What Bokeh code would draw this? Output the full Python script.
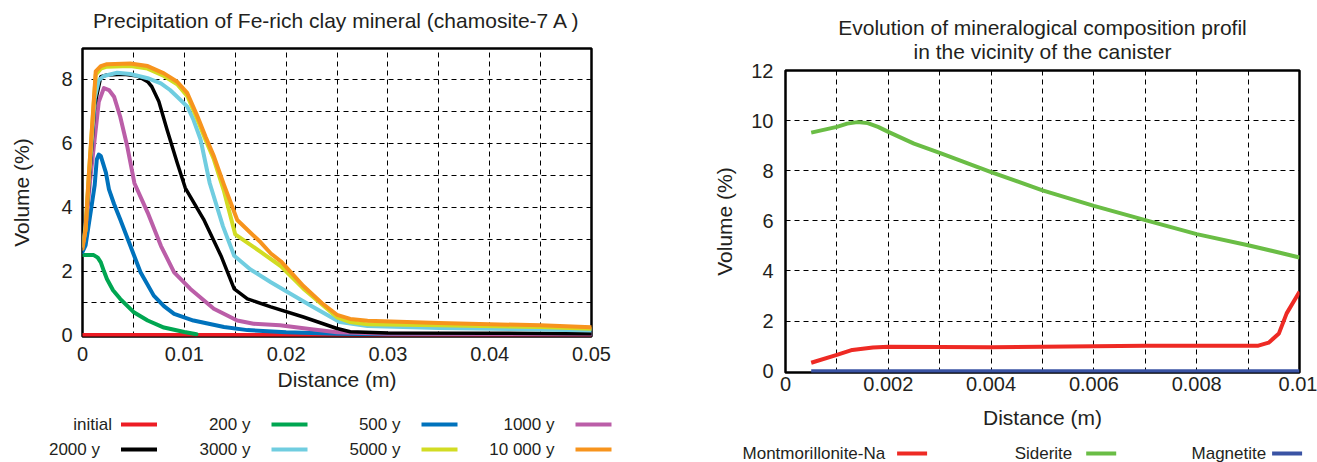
from bokeh.plotting import figure
from bokeh.models import Range1d, FixedTicker, ColumnDataSource, Title
from bokeh.layouts import row, column
from bokeh.core.properties import value
from bokeh.embed import file_html
from bokeh.resources import INLINE

# ---------------- data: left chart (chamosite-7A precipitation) ----------------
series_names = ["initial", "200 y", "500 y", "1000 y", "2000 y", "3000 y", "5000 y", "10 000 y"]
series_colors = ["#ed1c24", "#00a651", "#0072bc", "#bb5ea8", "#000000", "#70cde0", "#d2dc23", "#f7941d"]

x_initial = [0.0, 0.05]
y_initial = [0.0, 0.0]

x_200 = [0.0, 0.0011, 0.0015, 0.0018, 0.0021, 0.0024, 0.003, 0.0037, 0.005, 0.0064, 0.008, 0.010, 0.0112]
y_200 = [2.5, 2.5, 2.42, 2.27, 2.0, 1.75, 1.4, 1.13, 0.72, 0.45, 0.23, 0.09, 0.02]

x_500 = [0.0, 0.0003, 0.0008, 0.0012, 0.0014, 0.0016, 0.0018, 0.0023, 0.0026, 0.0031, 0.0037, 0.0047,
         0.0057, 0.007, 0.008, 0.009, 0.0109, 0.0139, 0.0162, 0.020, 0.025, 0.030, 0.040, 0.050]
y_500 = [2.6, 2.8, 3.84, 4.7, 5.49, 5.65, 5.6, 5.08, 4.56, 4.1, 3.62, 2.79,
         1.96, 1.23, 0.9, 0.66, 0.45, 0.25, 0.15, 0.08, 0.04, 0.02, 0.02, 0.02]

x_1000 = [0.0, 0.0003, 0.0008, 0.0016, 0.0021, 0.0026, 0.0031, 0.0037, 0.0044, 0.0051, 0.0064, 0.0077,
          0.009, 0.0106, 0.0129, 0.0152, 0.0168, 0.0194, 0.0225, 0.025, 0.030, 0.040, 0.050]
y_1000 = [2.8, 3.3, 5.0, 7.3, 7.73, 7.67, 7.46, 6.84, 5.9, 4.75, 3.83, 2.79,
          1.96, 1.44, 0.82, 0.45, 0.35, 0.3, 0.18, 0.08, 0.04, 0.03, 0.02]

x_2000 = [0.0, 0.0003, 0.0007, 0.0012, 0.0018, 0.0024, 0.0041, 0.0054, 0.0064, 0.0068, 0.0075, 0.0083,
          0.0093, 0.0101, 0.0119, 0.0136, 0.0149, 0.0162, 0.0185, 0.0217, 0.025, 0.0263, 0.030, 0.040, 0.050]
y_2000 = [2.8, 3.3, 5.0, 7.2, 8.09, 8.14, 8.16, 8.11, 7.93, 7.78, 7.31, 6.43,
          5.39, 4.6, 3.62, 2.48, 1.44, 1.13, 0.88, 0.56, 0.2, 0.1, 0.06, 0.05, 0.04]

x_3000 = [0.0, 0.0003, 0.0007, 0.0012, 0.0016, 0.0021, 0.0034, 0.0047, 0.0064, 0.0077, 0.0086, 0.0093,
          0.0103, 0.0109, 0.0116, 0.0125, 0.0138, 0.0149, 0.0165, 0.0185, 0.0224, 0.0253, 0.028,
          0.035, 0.045, 0.050]
y_3000 = [2.8, 3.4, 5.2, 7.4, 7.98, 8.11, 8.21, 8.17, 8.04, 7.88, 7.67, 7.46,
          7.15, 6.74, 6.12, 4.75, 3.4, 2.48, 2.05, 1.65, 0.92, 0.4, 0.28,
          0.22, 0.17, 0.14]

x_5000 = [0.0, 0.0003, 0.0006, 0.0013, 0.0018, 0.0024, 0.0047, 0.0064, 0.008, 0.0093, 0.0103,
          0.0113, 0.0121, 0.0129, 0.0139, 0.0150, 0.0175, 0.0195, 0.0217, 0.025, 0.0263, 0.028,
          0.035, 0.045, 0.050]
y_5000 = [2.8, 3.3, 4.9, 8.15, 8.34, 8.4, 8.42, 8.34, 8.11, 7.85, 7.48,
          6.74, 6.1, 5.5, 4.5, 3.15, 2.6, 2.15, 1.45, 0.55, 0.4, 0.33,
          0.3, 0.25, 0.19]

x_10000 = [0.0, 0.0003, 0.0006, 0.0013, 0.0018, 0.0024, 0.0047, 0.0064, 0.008, 0.0093, 0.0103,
           0.0113, 0.0121, 0.0129, 0.0139, 0.0152, 0.0165, 0.0175, 0.0185, 0.0195, 0.0217,
           0.0235, 0.025, 0.0263, 0.028, 0.035, 0.045, 0.050]
y_10000 = [2.7, 3.3, 4.9, 8.25, 8.42, 8.48, 8.5, 8.42, 8.19, 7.93, 7.57,
           6.84, 6.2, 5.6, 4.7, 3.6, 3.2, 2.9, 2.55, 2.3, 1.53,
           1.0, 0.63, 0.5, 0.44, 0.37, 0.3, 0.24]

left_xs = [x_initial, x_200, x_500, x_1000, x_2000, x_3000, x_5000, x_10000]
left_ys = [y_initial, y_200, y_500, y_1000, y_2000, y_3000, y_5000, y_10000]

left_xticks = [0.0, 0.01, 0.02, 0.03, 0.04, 0.05]
left_xtick_labels = ["0", "0.01", "0.02", "0.03", "0.04", "0.05"]
left_yticks = [0, 2, 4, 6, 8]
left_xgrid = [0.005, 0.01, 0.015, 0.02, 0.025, 0.03, 0.035, 0.04, 0.045]
left_ygrid = [1, 2, 3, 4, 5, 6, 7, 8]
left_title = "Precipitation of Fe-rich clay mineral (chamosite-7 A )"

# ---------------- data: right chart (mineralogical composition) ----------------
mineral_names = ["Montmorillonite-Na", "Siderite", "Magnetite"]
mineral_colors = ["#ee2a24", "#6abd45", "#3a53a4"]

x_mont = [0.0005, 0.001, 0.0013, 0.0017, 0.002, 0.003, 0.004, 0.005, 0.006, 0.007, 0.008, 0.0092,
          0.0094, 0.0096, 0.00975, 0.010]
y_mont = [0.34, 0.65, 0.85, 0.95, 0.98, 0.97, 0.96, 0.98, 1.0, 1.02, 1.02, 1.02,
          1.14, 1.51, 2.31, 3.17]

x_sid = [0.0005, 0.001, 0.0012, 0.0014, 0.0016, 0.0018, 0.002, 0.0025, 0.003, 0.004, 0.005, 0.006,
         0.007, 0.008, 0.009, 0.010]
y_sid = [9.52, 9.75, 9.88, 9.94, 9.9, 9.75, 9.55, 9.08, 8.71, 7.95, 7.22, 6.6,
         6.03, 5.47, 5.03, 4.54]

x_mag = [0.0005, 0.010]
y_mag = [0.0, 0.0]

right_xs = [x_mont, x_sid, x_mag]
right_ys = [y_mont, y_sid, y_mag]

right_xticks = [0.0, 0.002, 0.004, 0.006, 0.008, 0.01]
right_xtick_labels = ["0", "0.002", "0.004", "0.006", "0.008", "0.01"]
right_yticks = [0, 2, 4, 6, 8, 10, 12]
right_xgrid = [0.001, 0.002, 0.003, 0.004, 0.005, 0.006, 0.007, 0.008, 0.009]
right_ygrid = [2, 4, 6, 8, 10]
right_title_lines = ["Evolution of mineralogical composition profil", "in the vicinity of the canister"]

# ---------------- styling ----------------
FONT = "Liberation Sans"
TXT = "#231f20"


def no_align(p):
    try:
        p.frame_align = False
    except Exception:
        pass


def style(p, xticks, xlabels, yticks, xgrid, ygrid, xstand, ystand, xlabstand, ylabstand):
    p.outline_line_color = "black"
    p.outline_line_width = 2.5
    p.background_fill_color = "white"
    p.border_fill_color = "white"
    for ax in (p.xaxis[0], p.yaxis[0]):
        ax.axis_line_color = None
        ax.major_tick_line_color = None
        ax.minor_tick_line_color = None
        ax.major_tick_out = 0
        ax.major_tick_in = 0
        ax.minor_tick_out = 0
        ax.major_label_text_font = FONT
        ax.major_label_text_font_size = "20px"
        ax.major_label_text_color = TXT
        ax.axis_label_text_font = FONT
        ax.axis_label_text_font_size = "21px"
        ax.axis_label_text_font_style = "normal"
        ax.axis_label_text_color = TXT
    p.xaxis[0].ticker = FixedTicker(ticks=xticks)
    p.xaxis[0].major_label_overrides = {t: l for t, l in zip(xticks, xlabels)}
    p.yaxis[0].ticker = FixedTicker(ticks=yticks)
    p.xaxis[0].major_label_standoff = xstand
    p.yaxis[0].major_label_standoff = ystand
    p.xaxis[0].axis_label_standoff = xlabstand
    p.yaxis[0].axis_label_standoff = ylabstand
    p.xaxis[0].axis_label = "Distance (m)"
    p.yaxis[0].axis_label = "Volume (%)"
    p.xgrid[0].ticker = FixedTicker(ticks=xgrid)
    p.ygrid[0].ticker = FixedTicker(ticks=ygrid)
    for g in (p.xgrid[0], p.ygrid[0]):
        g.grid_line_color = "black"
        g.grid_line_width = 1
        g.grid_line_dash = "5 4"
    no_align(p)


def make_title(text, standoff):
    return Title(text=text, text_font=FONT, text_font_size="21px", text_font_style="normal",
                 text_color=TXT, align="center", standoff=standoff)


def legend_fig(w, h):
    f = figure(width=w, height=h, x_range=Range1d(0, w), y_range=Range1d(h, 0),
               output_backend="svg", toolbar_location=None, x_axis_type=None, y_axis_type=None,
               min_border_left=0, min_border_right=0, min_border_top=0, min_border_bottom=0)
    f.outline_line_color = None
    f.xgrid.visible = False
    f.ygrid.visible = False
    no_align(f)
    return f


# ---------------- left chart ----------------
left = figure(width=700, height=400, x_range=Range1d(0, 0.05), y_range=Range1d(-0.05, 8.97),
              output_backend="svg", toolbar_location=None, title=None,
              min_border_left=82, min_border_right=109, min_border_top=48, min_border_bottom=64)
style(left, left_xticks, left_xtick_labels, left_yticks, left_xgrid, left_ygrid, 10, 10, 4, 25)
left.add_layout(make_title(" ", 0), "above")          # spacer between frame and title
left.add_layout(make_title(left_title, -17), "above")
for xs, ys, c in zip(left_xs, left_ys, series_colors):
    lw = 3.5 if c == "#000000" else 4
    left.line(xs, ys, line_color=c, line_width=lw, line_join="round", line_cap="round")

# left legend (label then swatch, 2 rows x 4 columns); coordinates in page pixels
LW, LH = 700, 62
left_leg = legend_fig(LW, LH)
col_line_start = [120.5, 271, 421, 575]
row_y = [24, 49]
seg_len = 36
lx0, lx1, ly, tx, labels, cols = [], [], [], [], [], []
for i, (name, c) in enumerate(zip(series_names, series_colors)):
    r, k = divmod(i, 4)
    x0 = col_line_start[k]
    gap = 9 if i == 0 else 21
    lx0.append(x0)
    lx1.append(x0 + seg_len)
    ly.append(row_y[r])
    tx.append(x0 - gap)
    labels.append(name)
    cols.append(c)
leg_src = ColumnDataSource(dict(x0=lx0, x1=lx1, y=ly, tx=tx, text=labels, color=cols))
left_leg.segment(x0="x0", y0="y", x1="x1", y1="y", line_color="color", line_width=4, source=leg_src)
left_leg.text(x="tx", y="y", text="text", source=leg_src, text_align="right", text_baseline="middle",
              text_font=value(FONT), text_font_size=value("17px"), text_color=TXT)

# ---------------- right chart ----------------
right = figure(width=617, height=436, x_range=Range1d(0, 0.01), y_range=Range1d(-0.05, 12),
               output_backend="svg", toolbar_location=None, title=None,
               min_border_left=85, min_border_right=18, min_border_top=70, min_border_bottom=64)
style(right, right_xticks, right_xtick_labels, right_yticks, right_xgrid, right_ygrid, 4, 12, 12, 12)
right.add_layout(make_title(right_title_lines[1], 16), "above")
right.add_layout(make_title(right_title_lines[0], -19), "above")
for xs, ys, c in zip(right_xs, right_ys, mineral_colors):
    right.line(xs, ys, line_color=c, line_width=4, line_join="round", line_cap="butt")

RW, RH = 617, 26
right_leg = legend_fig(RW, RH)
r_text_end = [184.7, 371.8, 565.7]
r_line_start = [196.6, 385.7, 571.6]
r_seg = 30
rsrc = ColumnDataSource(dict(x0=r_line_start, x1=[v + r_seg for v in r_line_start], y=[17] * 3,
                             tx=r_text_end, text=mineral_names, color=mineral_colors))
right_leg.segment(x0="x0", y0="y", x1="x1", y1="y", line_color="color", line_width=4, source=rsrc)
right_leg.text(x="tx", y="y", text="text", source=rsrc, text_align="right", text_baseline="middle",
               text_font=value(FONT), text_font_size=value("17px"), text_color=TXT)

layout = row(column(left, left_leg), column(right, right_leg))

open("out.html", "w").write(file_html(layout, INLINE))
